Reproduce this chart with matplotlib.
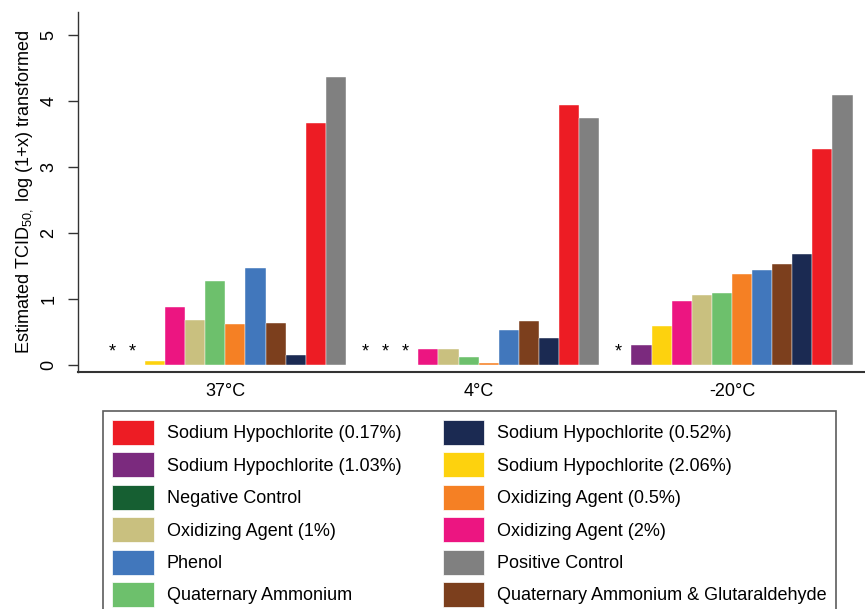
import matplotlib
matplotlib.use("Agg")
import matplotlib.pyplot as plt
from matplotlib.patches import Patch
import numpy as np

plt.rcParams["font.family"] = ["Liberation Sans", "DejaVu Sans"]
plt.rcParams["mathtext.fontset"] = "custom"
plt.rcParams["mathtext.rm"] = "Liberation Sans"
plt.rcParams["mathtext.it"] = "Liberation Sans:italic"

temperatures = ["37°C", "4°C", "-20°C"]
nan = np.nan

# values per temperature (37, 4, -20); nan = nothing detected (shown as *)
neg_control = [nan, nan, nan]
sh_103 = [nan, nan, 0.31]
sh_206 = [0.06, nan, 0.60]
oa_2 = [0.89, 0.25, 0.98]
oa_1 = [0.69, 0.24, 1.06]
quat_amm = [1.28, 0.12, 1.10]
oa_05 = [0.62, 0.04, 1.39]
phenol = [1.48, 0.53, 1.45]
quat_glut = [0.64, 0.67, 1.53]
sh_052 = [0.16, 0.41, 1.69]
sh_017 = [3.67, 3.94, 3.27]
pos_control = [4.36, 3.74, 4.09]

# bar order inside each group
series = [
    ("Negative Control", neg_control, "#165F32"),
    ("Sodium Hypochlorite (1.03%)", sh_103, "#7B2A7E"),
    ("Sodium Hypochlorite (2.06%)", sh_206, "#FDD20E"),
    ("Oxidizing Agent (2%)", oa_2, "#EC1581"),
    ("Oxidizing Agent (1%)", oa_1, "#C9C07F"),
    ("Quaternary Ammonium", quat_amm, "#6DC06C"),
    ("Oxidizing Agent (0.5%)", oa_05, "#F58024"),
    ("Phenol", phenol, "#4177BC"),
    ("Quaternary Ammonium & Glutaraldehyde", quat_glut, "#7C3F1D"),
    ("Sodium Hypochlorite (0.52%)", sh_052, "#1B2A52"),
    ("Sodium Hypochlorite (0.17%)", sh_017, "#ED1C24"),
    ("Positive Control", pos_control, "#808080"),
]

# legend order (row-wise, two columns)
legend_rows = [
    ("Sodium Hypochlorite (0.17%)", "Sodium Hypochlorite (0.52%)"),
    ("Sodium Hypochlorite (1.03%)", "Sodium Hypochlorite (2.06%)"),
    ("Negative Control", "Oxidizing Agent (0.5%)"),
    ("Oxidizing Agent (1%)", "Oxidizing Agent (2%)"),
    ("Phenol", "Positive Control"),
    ("Quaternary Ammonium", "Quaternary Ammonium & Glutaraldehyde"),
]

fig = plt.figure(figsize=(8.65, 6.09), dpi=100)
ax = fig.add_axes([78 / 865, 1 - 371.5 / 609, 787 / 865, 359.5 / 609])

n = len(series)
group_step = n + 0.6
group_start = np.arange(len(temperatures)) * group_step

for i, (name, vals, color) in enumerate(series):
    vals = np.array(vals, dtype=float)
    xs = group_start + i + 0.5
    ok = ~np.isnan(vals)
    ax.bar(xs[ok], vals[ok], width=1.0, color=color, edgecolor="white",
           linewidth=0.3)
    for x in xs[~ok]:
        ax.text(x - 0.15, 0.2, "*", ha="center", va="center", fontsize=13)

ax.set_xlim(-1.33, 37.82)
ax.set_ylim(-0.094, 5.35)
ax.set_xticks(group_start + n / 2)
ax.set_xticklabels(temperatures, fontsize=13)
ax.tick_params(axis="x", length=0, pad=8)
ax.set_yticks([0, 1, 2, 3, 4, 5])
ax.set_yticklabels(["0", "1", "2", "3", "4", "5"], fontsize=13, rotation=90,
                   va="center")
ax.tick_params(axis="y", length=7, width=1, pad=8, color="#333333")
for s in ["top", "right"]:
    ax.spines[s].set_visible(False)
ax.spines["left"].set_color("#333333")
ax.spines["bottom"].set_color("#333333")
ax.spines["left"].set_linewidth(1)
ax.spines["bottom"].set_linewidth(1.5)

fig.text(25 / 865, 1 - 192 / 609,
         r"Estimated TCID$_{50,}$ log (1+x) transformed",
         rotation=90, ha="center", va="center", fontsize=13)

colors = {name: color for name, _, color in series}
order = [r[0] for r in legend_rows] + [r[1] for r in legend_rows]
handles = [Patch(facecolor=colors[nm], edgecolor="white", linewidth=0.5)
           for nm in order]
leg = fig.legend(handles, order, ncols=2, loc="upper left",
                 bbox_to_anchor=(103 / 865, 1 - 411 / 609),
                 fontsize=13, frameon=True, fancybox=False,
                 handlelength=2.3, handleheight=1.74, handletextpad=0.72,
                 labelspacing=0.42, columnspacing=2.3, borderpad=0.5,
                 borderaxespad=0)
leg.get_frame().set_edgecolor("#333333")
leg.get_frame().set_linewidth(1.2)

fig.savefig("out.png", dpi=100)
